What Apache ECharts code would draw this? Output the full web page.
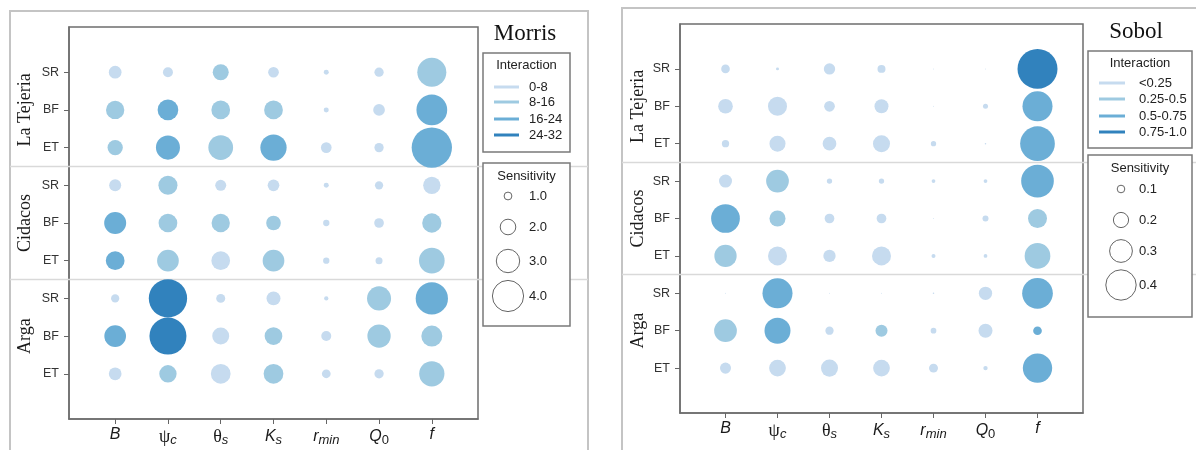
<!DOCTYPE html>
<html>
<head>
<meta charset="utf-8">
<script src="https://cdn.jsdelivr.net/npm/echarts@6/dist/echarts.min.js"></script>
<style>
  html, body { margin: 0; padding: 0; background: #fff; }
  #chart { width: 1196px; height: 450px; }
</style>
</head>
<body>
<div id="chart"></div>
<script>
// Parameters on the x axis: main symbol and subscript
const paramSymbols = ['B', 'ψ', 'θ', 'K', 'r', 'Q', 'f'];
const paramSubscripts = ['', 'c', 's', 's', 'min', '0', ''];

// Rows: three catchments, each with three fluxes
const catchments = ['La Tejeria', 'Cidacos', 'Arga'];
const fluxes = ['SR', 'BF', 'ET'];

// Morris: sensitivity (bubble size) and interaction class (0..3) per row × parameter
const morrisSens = [
  [1.63, 1.28, 2.05, 1.37, 0.64, 1.19, 3.72],
  [2.35, 2.65, 2.40, 2.40, 0.64, 1.50, 3.94],
  [1.96, 3.08, 3.17, 3.37, 1.37, 1.19, 5.17],
  [1.54, 2.44, 1.41, 1.50, 0.64, 1.06, 2.22],
  [2.82, 2.40, 2.35, 1.88, 0.81, 1.24, 2.47],
  [2.40, 2.78, 2.40, 2.78, 0.81, 0.90, 3.29],
  [1.06, 4.91, 1.15, 1.79, 0.55, 3.08, 4.14],
  [2.78, 4.74, 2.18, 2.27, 1.28, 2.99, 2.69],
  [1.63, 2.22, 2.53, 2.53, 1.12, 1.19, 3.24]
];
const morrisInter = [
  [0, 0, 1, 0, 0, 0, 1],
  [1, 2, 1, 1, 0, 0, 2],
  [1, 2, 1, 2, 0, 0, 2],
  [0, 1, 0, 0, 0, 0, 0],
  [2, 1, 1, 1, 0, 0, 1],
  [2, 1, 0, 1, 0, 0, 1],
  [0, 3, 0, 0, 0, 1, 2],
  [2, 3, 0, 1, 0, 1, 1],
  [0, 1, 0, 1, 0, 0, 1]
];

// Sobol: sensitivity (bubble size) and interaction class (0..3)
const sobolSens = [
  [0.114, 0.039, 0.149, 0.105, 0.013, 0.013, 0.526],
  [0.193, 0.250, 0.141, 0.184, 0.013, 0.066, 0.395],
  [0.096, 0.211, 0.180, 0.224, 0.070, 0.020, 0.457],
  [0.171, 0.299, 0.070, 0.070, 0.049, 0.049, 0.430],
  [0.378, 0.211, 0.128, 0.128, 0.013, 0.079, 0.250],
  [0.293, 0.250, 0.162, 0.250, 0.053, 0.049, 0.338],
  [0.013, 0.395, 0.013, 0.013, 0.020, 0.175, 0.404],
  [0.299, 0.342, 0.109, 0.158, 0.075, 0.184, 0.114],
  [0.145, 0.220, 0.224, 0.220, 0.118, 0.057, 0.386]
];
const sobolInter = [
  [0, 0, 0, 0, 0, 0, 3],
  [0, 0, 0, 0, 0, 0, 2],
  [0, 0, 0, 0, 0, 0, 2],
  [0, 1, 0, 0, 0, 0, 2],
  [2, 1, 0, 0, 0, 0, 1],
  [1, 0, 0, 0, 0, 0, 1],
  [0, 2, 0, 0, 0, 0, 2],
  [1, 2, 0, 1, 0, 0, 2],
  [0, 0, 0, 0, 0, 0, 2]
];

// Legend entries
const morrisInterLabels = ['0-8', '8-16', '16-24', '24-32'];
const sobolInterLabels = ['<0.25', '0.25-0.5', '0.5-0.75', '0.75-1.0'];
const morrisSensKeys = [1.0, 2.0, 3.0, 4.0];
const sobolSensKeys = [0.1, 0.2, 0.3, 0.4];

// ---- styling ----
const interColors = ['#c6dbef', '#9ecae1', '#6baed6', '#3182bd'];
const sizeFactor = [7.8, 76]; // px of diameter per unit sensitivity (Morris, Sobol)
const sansFont = '"Liberation Sans", Arial, sans-serif';
const serifFont = '"Liberation Serif", "Times New Roman", serif';

function paramLabel(i) {
  const s = paramSymbols[i], sub = paramSubscripts[i];
  const greek = /[\u0370-\u03ff]/.test(s);
  let out = greek ? '{g|' + s + '}' : '{m|' + s + '}';
  if (sub) out += /^\d+$/.test(sub) ? '{d|' + sub + '}' : '{s|' + sub + '}';
  return out;
}

const richParams = {
  m: { fontFamily: sansFont, fontStyle: 'italic', fontSize: 16, color: '#1a1a1a' },
  g: { fontFamily: serifFont, fontSize: 18, color: '#1a1a1a' },
  s: { fontFamily: sansFont, fontStyle: 'italic', fontSize: 13, color: '#1a1a1a', padding: [7, 0, 0, 0] },
  d: { fontFamily: sansFont, fontSize: 13, color: '#1a1a1a', padding: [7, 0, 0, 0] }
};

const grids = [
  { left: 69, top: 27, width: 409, height: 392 },
  { left: 680, top: 24, width: 403, height: 389 }
];

function buildPoints(sens, inter) {
  const pts = [];
  sens.forEach((row, r) => row.forEach((v, c) => pts.push([c, r, v, inter[r][c]])));
  return pts;
}

const xCustom = paramSymbols.map((_, i) => i);
const yCustom = [];
for (let i = 0; i < catchments.length * fluxes.length; i++) yCustom.push(i);

const chart = echarts.init(document.getElementById('chart'), null, { renderer: 'canvas' });

const option = {
  animation: false,
  backgroundColor: '#fff',
  grid: grids.map(g => Object.assign({ show: true, borderColor: '#6e6e6e', borderWidth: 1.5, backgroundColor: 'transparent' }, g)),
  xAxis: grids.map((_, gi) => ({
    type: 'value', gridIndex: gi, min: -0.875, max: 6.875,
    axisLine: { show: true, onZero: false, lineStyle: { color: '#6e6e6e', width: 1.5 } },
    axisTick: { show: true, customValues: xCustom, length: 5, lineStyle: { color: '#666' } },
    axisLabel: { show: true, customValues: xCustom, margin: 8, formatter: v => paramLabel(Math.round(v)), rich: richParams },
    splitLine: { show: false }
  })),
  yAxis: grids.map((_, gi) => ({
    type: 'value', gridIndex: gi, inverse: true, min: -1.2, max: 9.2,
    axisLine: { show: true, onZero: false, lineStyle: { color: '#6e6e6e', width: 1.5 } },
    axisTick: { show: true, customValues: yCustom, length: 5, lineStyle: { color: '#666' } },
    axisLabel: { show: true, customValues: yCustom, margin: 10, fontFamily: sansFont, fontSize: 12.5, color: '#333',
      formatter: v => fluxes[Math.round(v) % fluxes.length] },
    splitLine: { show: false }
  })),
  series: [
    [morrisSens, morrisInter],
    [sobolSens, sobolInter]
  ].map(([sens, inter], gi) => ({
    type: 'scatter', xAxisIndex: gi, yAxisIndex: gi, z: 3,
    data: buildPoints(sens, inter),
    symbol: 'circle',
    symbolSize: d => d[2] * sizeFactor[gi],
    itemStyle: { color: p => interColors[p.value[3]], opacity: 1 },
    emphasis: { disabled: true }
  }))
};
chart.setOption(option);

// ---- frames, separators, titles, group labels and legends ----
const graphics = [];
const panels = [
  { frame: [10, 11, 578, 470], sepX: [10, 588], title: 'Morris', titlePos: [525, 34], groupX: 25,
    interBox: [483, 53, 87, 99], sensBox: [483, 163, 87, 163], lineX: [494, 519], textX: 529, circX: 508,
    interY: [87, 102, 119, 135], sensY: [196, 227, 261, 296], interLabels: morrisInterLabels,
    sensKeys: morrisSensKeys, fmt: v => v.toFixed(1) },
  { frame: [622, 8, 600, 470], sepX: [622, 1196], title: 'Sobol', titlePos: [1136, 32], groupX: 638,
    interBox: [1088, 51, 104, 97], sensBox: [1088, 155, 104, 162], lineX: [1099, 1125], textX: 1139, circX: 1121,
    interY: [83, 99, 116, 132], sensY: [189, 220, 251, 285], interLabels: sobolInterLabels,
    sensKeys: sobolSensKeys, fmt: v => String(v) }
];

panels.forEach((p, gi) => {
  const [fx, fy, fw, fh] = p.frame;
  graphics.push({ type: 'rect', z: 0, silent: true, shape: { x: fx, y: fy, width: fw, height: fh },
    style: { fill: 'none', stroke: '#c4c4c4', lineWidth: 2 } });

  // separators between catchments
  for (let k = 1; k < catchments.length; k++) {
    const yv = k * fluxes.length - 0.5;
    const py = chart.convertToPixel({ gridIndex: gi }, [0, yv])[1];
    graphics.push({ type: 'line', z: 1, silent: true,
      shape: { x1: p.sepX[0], y1: py, x2: p.sepX[1], y2: py },
      style: { stroke: '#d9d9d9', lineWidth: 1.5 } });
  }

  // catchment names, centred on the middle flux row
  catchments.forEach((name, k) => {
    const py = chart.convertToPixel({ gridIndex: gi }, [0, k * fluxes.length + 1])[1];
    graphics.push({ type: 'text', z: 5, silent: true, x: p.groupX, y: py, rotation: Math.PI / 2,
      style: { text: name, fontFamily: serifFont, fontSize: 18, fill: '#1a1a1a', align: 'center', verticalAlign: 'middle' } });
  });

  // panel title
  graphics.push({ type: 'text', z: 5, silent: true, x: p.titlePos[0], y: p.titlePos[1],
    style: { text: p.title, fontFamily: serifFont, fontSize: 23, fill: '#111', align: 'center', verticalAlign: 'middle' } });

  // interaction legend
  const [ix, iy, iw, ih] = p.interBox;
  graphics.push({ type: 'rect', z: 6, silent: true, shape: { x: ix, y: iy, width: iw, height: ih },
    style: { fill: '#fff', stroke: '#7a7a7a', lineWidth: 1.5 } });
  graphics.push({ type: 'text', z: 7, silent: true, x: ix + iw / 2, y: iy + 12,
    style: { text: 'Interaction', fontFamily: sansFont, fontSize: 13, fill: '#222', align: 'center', verticalAlign: 'middle' } });
  p.interLabels.forEach((lab, k) => {
    graphics.push({ type: 'line', z: 7, silent: true,
      shape: { x1: p.lineX[0], y1: p.interY[k], x2: p.lineX[1], y2: p.interY[k] },
      style: { stroke: interColors[k], lineWidth: 3 } });
    graphics.push({ type: 'text', z: 7, silent: true, x: p.textX, y: p.interY[k],
      style: { text: lab, fontFamily: sansFont, fontSize: 13, fill: '#222', align: 'left', verticalAlign: 'middle' } });
  });

  // sensitivity legend
  const [sx, sy, sw, sh] = p.sensBox;
  graphics.push({ type: 'rect', z: 6, silent: true, shape: { x: sx, y: sy, width: sw, height: sh },
    style: { fill: '#fff', stroke: '#7a7a7a', lineWidth: 1.5 } });
  graphics.push({ type: 'text', z: 7, silent: true, x: sx + sw / 2, y: sy + 13,
    style: { text: 'Sensitivity', fontFamily: sansFont, fontSize: 13, fill: '#222', align: 'center', verticalAlign: 'middle' } });
  p.sensKeys.forEach((v, k) => {
    graphics.push({ type: 'circle', z: 7, silent: true,
      shape: { cx: p.circX, cy: p.sensY[k], r: v * sizeFactor[gi] / 2 },
      style: { fill: 'none', stroke: '#666', lineWidth: 1 } });
    graphics.push({ type: 'text', z: 7, silent: true, x: p.textX, y: p.sensY[k],
      style: { text: p.fmt(v), fontFamily: sansFont, fontSize: 13, fill: '#222', align: 'left', verticalAlign: 'middle' } });
  });
});

chart.setOption({ graphic: { elements: graphics } });
</script>
</body>
</html>
